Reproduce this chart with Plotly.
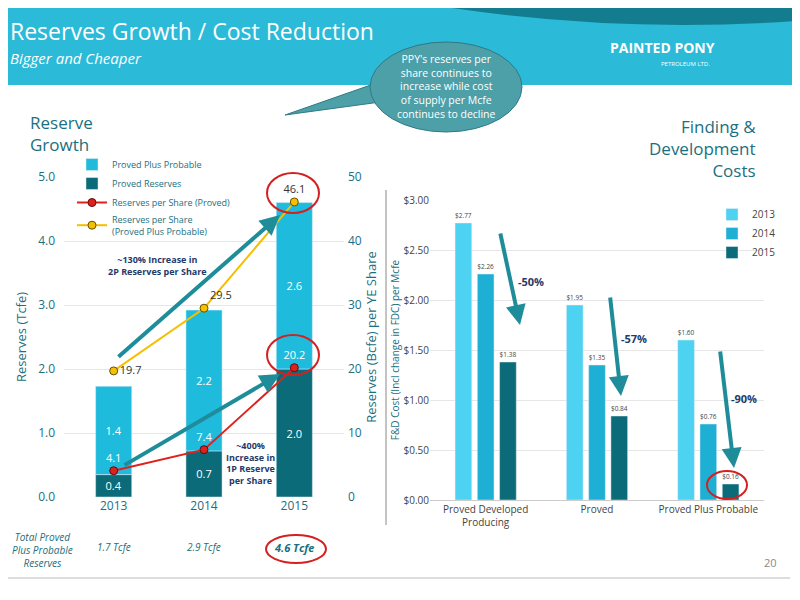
import plotly.graph_objects as go

years = ["2013", "2014", "2015"]
proved = [0.35, 0.72, 2.0]
proved_lbl = ["0.4", "0.7", "2.0"]
probable = [1.38, 2.2, 2.6]
probable_lbl = ["1.4", "2.2", "2.6"]
ps_proved = [4.1, 7.4, 20.2]
ps_2p = [19.7, 29.5, 46.1]
totals = ["1.7 Tcfe", "2.9 Tcfe", "4.6 Tcfe"]

fd_cats = ["Proved Developed<br>Producing", "Proved", "Proved Plus Probable"]
fd_2013 = [2.77, 1.95, 1.60]
fd_2014 = [2.26, 1.35, 0.76]
fd_2015 = [1.38, 0.84, 0.16]

TEAL = "#1b6f80"
LIGHT = "#1fbbdd"
DARK = "#0b6b78"
W, H = 800, 600
OFF = 8
def px(x): return (x - OFF) / W
def py(y): return 1 - (y - OFF) / H

fig = go.Figure()
fig.add_bar(x=[0, 1, 2], y=proved, name="Proved Reserves", marker_color=DARK, width=0.4, offsetgroup="L",
            text=proved_lbl, textposition="inside", insidetextanchor="middle", legendgroup="b",
            textfont=dict(color="white", size=11), legendrank=2, legend="legend")
fig.add_bar(x=[0, 1, 2], y=probable, base=proved, name="Proved Plus Probable", marker_color=LIGHT, width=0.4,
            offsetgroup="L", text=probable_lbl, textposition="inside", insidetextanchor="middle", legendgroup="a",
            textfont=dict(color="white", size=11), legendrank=1, legend="legend")
fig.add_scatter(x=[0, 1, 2], y=ps_proved, yaxis="y2", name="Reserves per Share (Proved)", legendgroup="c",
                mode="lines+markers+text", line=dict(color="#e0201c", width=2),
                marker=dict(color="#e0201c", size=8, line=dict(color="#5a1010", width=1)),
                text=[str(v) for v in ps_proved], textposition="top center",
                textfont=dict(color="white", size=11), legendrank=3, legend="legend")
fig.add_scatter(x=[0, 1, 2], y=ps_2p, yaxis="y2", name="Reserves per Share<br>(Proved Plus Probable)", legendgroup="d",
                mode="lines+markers+text", line=dict(color="#f5c000", width=2),
                marker=dict(color="#f5c000", size=8, line=dict(color="#6a5000", width=1)),
                text=[str(v) for v in ps_2p], textposition=["middle right", "top right", "top center"],
                textfont=dict(color="#333", size=11), legendrank=4, legend="legend")

for name, vals, col in [("2013", fd_2013, "#4dd2f2"), ("2014", fd_2014, "#1eb0d4"), ("2015", fd_2015, "#0b6b78")]:
    fig.add_bar(x=fd_cats, y=vals, name=name, marker_color=col, xaxis="x3", yaxis="y3",
                text=[f"${v:.2f}" for v in vals], textposition="outside", cliponaxis=False,
                textfont=dict(color="#444", size=10), legend="legend2")

fig.update_layout(
    width=W, height=H, margin=dict(l=0, r=0, t=0, b=0, autoexpand=False), paper_bgcolor="white", plot_bgcolor="white",
    barmode="group", bargap=0.4, bargroupgap=0.25,
    font=dict(family="Open Sans, sans-serif", color=TEAL),
    xaxis=dict(domain=[px(64), px(344)], range=[-0.55, 2.55], tickvals=[0, 1, 2], ticktext=years,
               showgrid=False, showline=False, tickfont=dict(size=12, color=TEAL), ticks=""),
    yaxis=dict(domain=[py(497), py(177)], range=[0, 5], dtick=1, tickformat=".1f",
               gridcolor="#e6e6e6", zeroline=False, tickfont=dict(size=12, color=TEAL), ticklabelstandoff=8,
               title=dict(text="Reserves (Tcfe)", font=dict(size=13, color=TEAL), standoff=8)),
    yaxis2=dict(overlaying="y", side="right", anchor="x", range=[0, 50], dtick=10, showgrid=False,
                tickfont=dict(size=12, color=TEAL), ticklabelstandoff=3,
                title=dict(text="Reserves (Bcfe) per YE Share", font=dict(size=13, color=TEAL), standoff=0)),
    xaxis3=dict(domain=[px(430), px(764)], anchor="y3", showgrid=False, tickfont=dict(size=10, color="#444"),
                showline=True, linecolor="#ccc"),
    yaxis3=dict(domain=[py(500), py(200)], anchor="x3", range=[0, 3], dtick=0.5, tickprefix="$",
                tickformat=".2f", gridcolor="#e6e6e6", zeroline=False, tickfont=dict(size=10, color="#444"),
                title=dict(text="F&D Cost (Incl change in FDC) per Mcfe", font=dict(size=10, color=TEAL), standoff=2)),
    legend=dict(x=px(72), y=py(150), xanchor="left", yanchor="top", bgcolor="rgba(0,0,0,0)",
                font=dict(size=9, color=TEAL), tracegroupgap=4, traceorder="normal", itemwidth=30),
    legend2=dict(x=px(712), y=py(200), xanchor="left", yanchor="top", bgcolor="rgba(0,0,0,0)",
                 font=dict(size=10, color="#444")),
    showlegend=True,
)

shapes = [
    dict(type="rect", xref="paper", yref="paper", x0=0, x1=1.05, y0=py(85), y1=1.05, fillcolor="#2bbad8", line_width=0, layer="below"),
    dict(type="path", xref="paper", yref="paper",
         path=f"M {px(300)},1.05 Q {px(550)},{py(40)} {px(810)},{py(20)} L 1.05,1.05 Z",
         fillcolor="#137c8f", line_width=0, layer="below"),
    dict(type="path", xref="paper", yref="paper",
         path=f"M {px(285)},{py(115)} L {px(385)},{py(80)} L {px(395)},{py(100)} Z",
         fillcolor="#4d9fa8", line=dict(color="#2f7a85", width=1)),
    dict(type="circle", xref="paper", yref="paper", x0=px(370), x1=px(522), y0=py(132), y1=py(42),
         fillcolor="#4d9fa8", line=dict(color="#2f7a85", width=1)),
    dict(type="line", xref="paper", yref="paper", x0=px(386), x1=px(386), y0=py(190), y1=py(525), line=dict(color="#888", width=1)),
    dict(type="line", xref="paper", yref="paper", x0=px(0), x1=px(790), y0=py(578), y1=py(578), line=dict(color="#bbb", width=1)),
]
for cx, cy, rx, ry in [(293, 193, 26, 20), (293, 355, 26, 20), (296, 549, 30, 14), (727, 485, 20, 14)]:
    shapes.append(dict(type="circle", xref="paper", yref="paper", x0=px(cx - rx), x1=px(cx + rx),
                       y0=py(cy + ry), y1=py(cy - ry), line=dict(color="#d42020", width=2)))
fig.update_layout(shapes=shapes)

ann = [
    dict(x=px(8), y=py(31), text="Reserves Growth / Cost Reduction", font=dict(size=23, color="white"), xanchor="left"),
    dict(x=px(8), y=py(58), text="<i>Bigger and Cheaper</i>", font=dict(size=15, color="white"), xanchor="left"),
    dict(x=px(608), y=py(48), text="<b>PAINTED PONY</b>", font=dict(size=14, color="white"), xanchor="left"),
    dict(x=px(712), y=py(64), text="PETROLEUM LTD.", font=dict(size=6, color="white"), xanchor="right"),
    dict(x=px(446), y=py(87), text="PPY's reserves per<br>share continues to<br>increase while cost<br>of supply per Mcfe<br>continues to decline",
         font=dict(size=10.5, color="white")),
    dict(x=px(28), y=py(134), text="Reserve<br>Growth", font=dict(size=17, color=TEAL), xanchor="left", align="left"),
    dict(x=px(758), y=py(148), text="Finding &<br>Development<br>Costs", font=dict(size=17, color=TEAL), xanchor="right", align="right"),
    dict(x=px(157), y=py(266), text="<b>~130% Increase in<br>2P Reserves per Share</b>", font=dict(size=9, color="#1f3a6a")),
    dict(x=px(250), y=py(463), text="<b>~400%<br>Increase in<br>1P Reserve<br>per Share</b>", font=dict(size=9, color="#1f3a6a")),
    dict(x=px(10), y=py(550), text="<i>Total Proved<br>Plus Probable<br>Reserves</i>", font=dict(size=10, color=TEAL), xanchor="left", align="center"),
    dict(x=px(770), y=py(562), text="20", font=dict(size=11, color="#888")),
]
for i, t in enumerate(totals):
    txt = f"<b><i>{t}</i></b>" if i == 2 else f"<i>{t}</i>"
    ann.append(dict(x=i, xref="x", y=py(547), yref="paper", text=txt, font=dict(size=11 if i == 2 else 10, color=TEAL), showarrow=False))
for (x0, y0, x1, y1) in [(117, 358, 280, 215), (123, 466, 280, 374), (500, 232, 520, 325), (610, 296, 621, 396), (720, 350, 734, 468)]:
    ann.append(dict(x=px(x1), y=py(y1), ax=x0 - x1, ay=y0 - y1, xref="paper", yref="paper", axref="pixel", ayref="pixel",
                    showarrow=True, arrowhead=2, arrowsize=1, arrowwidth=4, arrowcolor="#1e8d99", text=""))
for x, y, t in [(531, 281, "-50%"), (634, 338, "-57%"), (744, 398, "-90%")]:
    ann.append(dict(x=px(x), y=py(y), text=f"<b>{t}</b>", font=dict(size=11, color="#1f3a6a")))
for a in ann:
    a.setdefault("xref", "paper"); a.setdefault("yref", "paper"); a.setdefault("showarrow", False)
    a.setdefault("yanchor", "middle"); a.setdefault("xanchor", "center")
fig.update_layout(annotations=ann)

fig.write_html("out.html")
